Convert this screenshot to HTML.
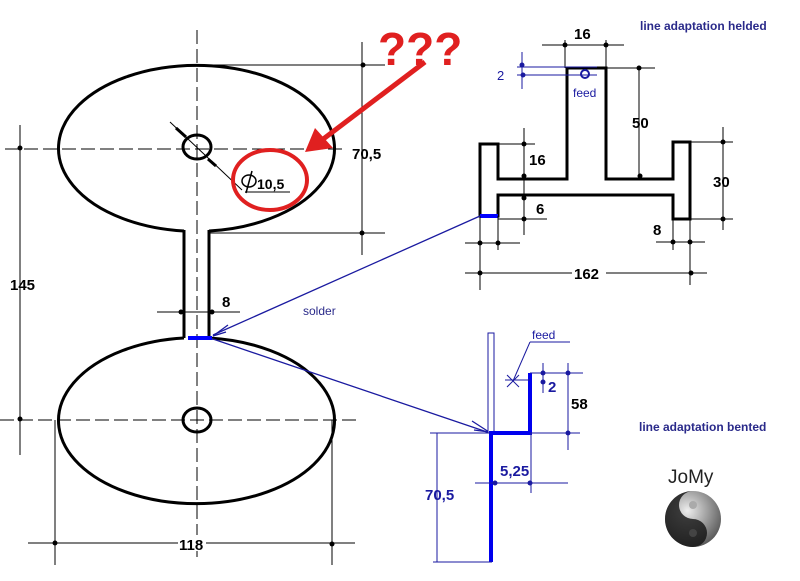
<!DOCTYPE html>
<html><head><meta charset="utf-8"><style>
html,body{margin:0;padding:0;background:#fff;}
svg{display:block;}
text{font-family:"Liberation Sans",sans-serif;}
</style></head><body>
<svg width="800" height="581" viewBox="0 0 800 581" xmlns="http://www.w3.org/2000/svg">
<defs>
<radialGradient id="yy" cx="40%" cy="35%" r="70%"><stop offset="0" stop-color="#eee"/><stop offset="1" stop-color="#555"/></radialGradient>
</defs>
<g stroke="#000" stroke-width="1" fill="none">
<line x1="197" y1="30" x2="197" y2="560" stroke-dasharray="14,5"/>
<line x1="5" y1="149" x2="345" y2="149" stroke-dasharray="14,5"/>
<line x1="0" y1="420" x2="357" y2="420" stroke-dasharray="14,5"/>
<line x1="20" y1="125" x2="20" y2="455"/>
<line x1="362" y1="42" x2="362" y2="255"/>
<line x1="197" y1="65" x2="385" y2="65"/>
<line x1="209" y1="233" x2="385" y2="233"/>
<line x1="28" y1="543" x2="355" y2="543"/>
<line x1="55" y1="420" x2="55" y2="565"/>
<line x1="332" y1="420" x2="332" y2="565"/>
<line x1="157" y1="312" x2="240" y2="312"/>
<line x1="170" y1="122" x2="242" y2="190"/>
<line x1="245" y1="192" x2="290" y2="192"/>
</g>
<g stroke="#000" stroke-width="3" fill="none">
<path d="M184,230 L184,338 M209,230 L209,338"/>
<path d="M184,231 A138,83 0 1 1 209,231"/>
<path d="M184,338 A138,83 0 1 0 209,338"/>
<ellipse cx="197" cy="147" rx="14" ry="12"/>
<ellipse cx="197" cy="420" rx="14" ry="12"/>
<line x1="176" y1="128" x2="186" y2="137"/>
<line x1="208" y1="159" x2="216" y2="166"/>
</g>
<g fill="#000">
<circle cx="20" cy="148" r="2.5"/><circle cx="20" cy="419" r="2.5"/>
<circle cx="363" cy="65" r="2.5"/><circle cx="362" cy="233" r="2.5"/>
<circle cx="55" cy="543" r="2.5"/><circle cx="332" cy="544" r="2.5"/>
<circle cx="181" cy="312" r="2.5"/><circle cx="212" cy="312" r="2.5"/>
</g>
<rect x="178" y="535" width="28" height="16" fill="#fff"/>
<g font-weight="bold" font-size="15" fill="#000">
<text x="10" y="290">145</text>
<text x="352" y="159">70,5</text>
<text x="179" y="550">118</text>
<text x="222" y="307">8</text>
<text x="257" y="189" font-size="14">10,5</text>
</g>
<g stroke="#000" stroke-width="1.5" fill="none">
<ellipse cx="249" cy="181" rx="7" ry="6"/><line x1="252" y1="171" x2="246" y2="193"/>
</g>
<ellipse cx="270" cy="180" rx="37" ry="30" stroke="#e02020" stroke-width="4" fill="none"/>
<line x1="425" y1="62" x2="318" y2="143" stroke="#e02020" stroke-width="5"/>
<polygon points="305,152 315,128 333,148" fill="#e02020"/>
<text x="378" y="65" font-size="46" font-weight="bold" fill="#e02020">???</text>
<path d="M480,144 L498,144 L498,179 L567,179 L567,68 L606,68 L606,179 L673,179 L673,142 L690,142 L690,219 L673,219 L673,195 L498,195 L498,216 L480,216 Z" stroke="#000" stroke-width="3" fill="none"/>
<line x1="480" y1="216" x2="498" y2="216" stroke="#0000ff" stroke-width="4"/>
<g stroke="#000" stroke-width="1" fill="none">
<line x1="542" y1="45" x2="624" y2="45"/>
<line x1="565" y1="40" x2="565" y2="68"/><line x1="606" y1="40" x2="606" y2="68"/>
<line x1="606" y1="68" x2="655" y2="68"/><line x1="639" y1="68" x2="639" y2="179"/>
<line x1="498" y1="144" x2="535" y2="144"/><line x1="524" y1="128" x2="524" y2="235"/>
<line x1="498" y1="219" x2="547" y2="219"/>
<line x1="690" y1="142" x2="733" y2="142"/><line x1="690" y1="219" x2="733" y2="219"/>
<line x1="723" y1="127" x2="723" y2="230"/>
<line x1="656" y1="242" x2="705" y2="242"/>
<line x1="673" y1="219" x2="673" y2="250"/><line x1="690" y1="219" x2="690" y2="285"/>
<line x1="480" y1="216" x2="480" y2="290"/><line x1="498" y1="216" x2="498" y2="250"/>
<line x1="465" y1="243" x2="520" y2="243"/>
<line x1="465" y1="273" x2="707" y2="273"/>
</g>
<g fill="#000">
<circle cx="565" cy="45" r="2.5"/><circle cx="606" cy="45" r="2.5"/>
<circle cx="639" cy="68" r="2.5"/><circle cx="640" cy="176" r="2.5"/>
<circle cx="524" cy="144" r="2.5"/><circle cx="524" cy="176" r="2.5"/><circle cx="524" cy="198" r="2.5"/><circle cx="524" cy="219" r="2.5"/>
<circle cx="723" cy="142" r="2.5"/><circle cx="723" cy="219" r="2.5"/>
<circle cx="673" cy="242" r="2.5"/><circle cx="690" cy="242" r="2.5"/>
<circle cx="480" cy="243" r="2.5"/><circle cx="498" cy="243" r="2.5"/>
<circle cx="480" cy="273" r="2.5"/><circle cx="691" cy="273" r="2.5"/>
</g>
<g font-weight="bold" font-size="15" fill="#000">
<text x="574" y="39">16</text>
<text x="632" y="128">50</text>
<text x="529" y="165">16</text>
<text x="536" y="214">6</text>
<text x="713" y="187">30</text>
<text x="653" y="235">8</text>
<rect x="572" y="264" width="34" height="16" fill="#fff"/>
<text x="574" y="279">162</text>
</g>
<g stroke="#1a1aa0" stroke-width="1" fill="none">
<line x1="517" y1="67" x2="597" y2="67"/><line x1="517" y1="75" x2="597" y2="75"/>
<line x1="522" y1="52" x2="522" y2="89"/>
<circle cx="585" cy="74" r="4" stroke-width="2"/>
</g>
<circle cx="522" cy="65" r="2.5" fill="#1a1aa0"/><circle cx="523" cy="75" r="2.5" fill="#1a1aa0"/>
<text x="497" y="80" font-size="13" fill="#1a1aa0">2</text>
<text x="573" y="97" font-size="12" fill="#1a1aa0">feed</text>
<text x="640" y="30" font-size="12" font-weight="bold" fill="#2a2a8a">line adaptation helded</text>
<g stroke="#1a1aa0" stroke-width="1.3" fill="none">
<line x1="480" y1="216" x2="213" y2="335"/>
<line x1="210" y1="338" x2="490" y2="433"/>
<path d="M228,325 L213,336 L226,332"/>
<path d="M472,421 L489,432 L474,430"/>
</g>
<line x1="188" y1="338" x2="212" y2="338" stroke="#0000ff" stroke-width="4"/>
<text x="303" y="315" font-size="12" fill="#2a2a8a">solder</text>
<rect x="488" y="333" width="6" height="100" stroke="#1a1aa0" stroke-width="1" fill="#fff"/>
<g stroke="#0000ee" stroke-width="4" fill="none">
<path d="M491,562 L491,433 L530,433 L530,373"/>
</g>
<g stroke="#1a1aa0" stroke-width="1" fill="none">
<line x1="530" y1="373" x2="583" y2="373"/>
<line x1="505" y1="380" x2="530" y2="380"/>
<line x1="543" y1="363" x2="543" y2="393"/>
<line x1="568" y1="363" x2="568" y2="450"/>
<line x1="530" y1="433" x2="580" y2="433"/>
<line x1="530" y1="342" x2="570" y2="342"/>
<line x1="530" y1="342" x2="513" y2="381"/>
<line x1="507" y1="375" x2="519" y2="387"/><line x1="519" y1="375" x2="507" y2="387"/>
<line x1="475" y1="483" x2="568" y2="483"/>
<line x1="531" y1="433" x2="531" y2="493"/>
<line x1="430" y1="433" x2="490" y2="433"/>
<line x1="433" y1="562" x2="492" y2="562"/>
<line x1="437" y1="433" x2="437" y2="562"/>
</g>
<g fill="#1a1aa0">
<circle cx="543" cy="373" r="2.5"/><circle cx="568" cy="373" r="2.5"/><circle cx="543" cy="382" r="2.5"/>
<circle cx="568" cy="433" r="2.5"/><circle cx="495" cy="483" r="2.5"/><circle cx="530" cy="483" r="2.5"/>
</g>
<text x="532" y="339" font-size="12" fill="#1a1aa0">feed</text>
<text x="548" y="392" font-size="15" font-weight="bold" fill="#1a1aa0">2</text>
<text x="571" y="409" font-size="15" font-weight="bold" fill="#000">58</text>
<text x="500" y="476" font-size="15" font-weight="bold" fill="#1a1aa0">5,25</text>
<text x="425" y="500" font-size="15" font-weight="bold" fill="#1a1aa0">70,5</text>
<text x="639" y="431" font-size="12" font-weight="bold" fill="#2a2a8a">line adaptation bented</text>
<text x="668" y="483" font-size="19" fill="#222">JoMy</text>
<circle cx="693" cy="519" r="28" fill="url(#yy)"/>
<path d="M693,491 A28,28 0 0 0 693,547 A14,14 0 0 0 693,519 A14,14 0 0 1 693,491 Z" fill="#111" opacity="0.8"/>
<circle cx="693" cy="505" r="4" fill="#aaa"/>
<circle cx="693" cy="533" r="4" fill="#444"/>
</svg>
</body></html>
